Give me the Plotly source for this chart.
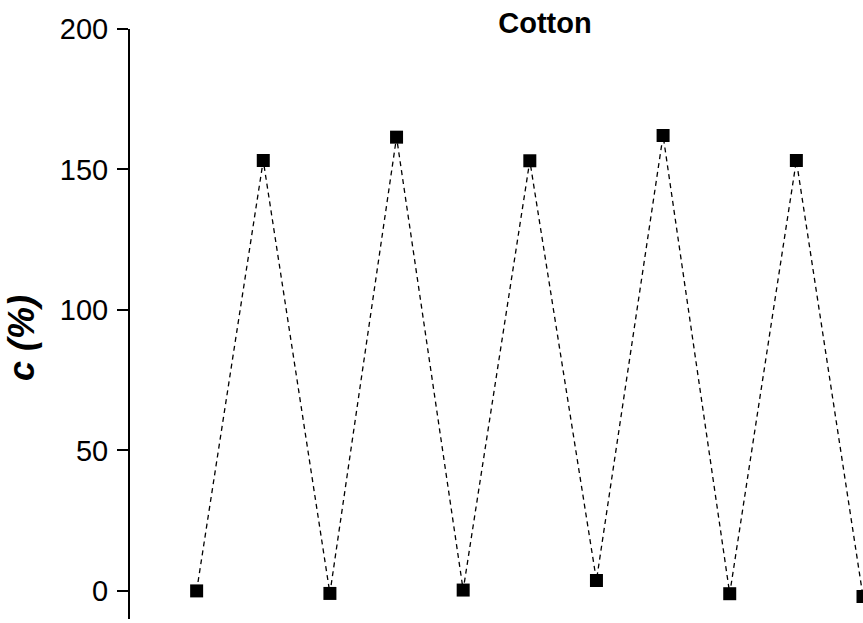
import plotly.graph_objects as go

# Cycle index and measured c (%) for the cotton sample
cycle = [1, 2, 3, 4, 5, 6, 7, 8, 9, 10, 11]
c_percent = [0.0, 153.2, -0.9, 161.5, 0.3, 153.1, 3.7, 162.1, -1.0, 153.2, -2.0]
y_ticks = [0, 50, 100, 150, 200]

FONT = "Liberation Sans, Arial, sans-serif"

fig = go.Figure()
fig.add_trace(go.Scatter(
    x=cycle,
    y=c_percent,
    mode="lines+markers",
    line=dict(color="black", width=1.3, dash="5px,4px"),
    marker=dict(symbol="square", size=13, color="black"),
    showlegend=False,
))

fig.update_layout(
    width=863,
    height=623,
    margin=dict(l=130, r=0, t=29, b=4),
    plot_bgcolor="white",
    paper_bgcolor="white",
    font=dict(family=FONT, color="black"),
    title=dict(
        text="<b>Cotton</b>",
        x=545 / 863,
        xanchor="center",
        xref="container",
        y=1 - 23 / 623,
        yanchor="middle",
        yref="container",
        font=dict(family=FONT, size=29, color="black"),
    ),
    xaxis=dict(visible=False, range=[0, 11.0]),
    yaxis=dict(
        range=[-10, 200],
        tickvals=y_ticks,
        ticktext=[str(v) for v in y_ticks],
        ticks="outside",
        ticklen=11,
        tickwidth=2,
        tickcolor="black",
        showline=True,
        linecolor="black",
        linewidth=2,
        showgrid=False,
        zeroline=False,
        tickfont=dict(family=FONT, size=29, color="black"),
        ticklabelstandoff=3,
    ),
    annotations=[dict(
        text="<b><i>c (%)</i></b>",
        xref="paper",
        yref="paper",
        x=(21 - 130) / 733,
        y=1 - (338 - 29) / 590,
        xanchor="center",
        yanchor="middle",
        textangle=-90,
        showarrow=False,
        font=dict(family=FONT, size=36, color="black"),
    )],
)

fig.write_html("out.html")
